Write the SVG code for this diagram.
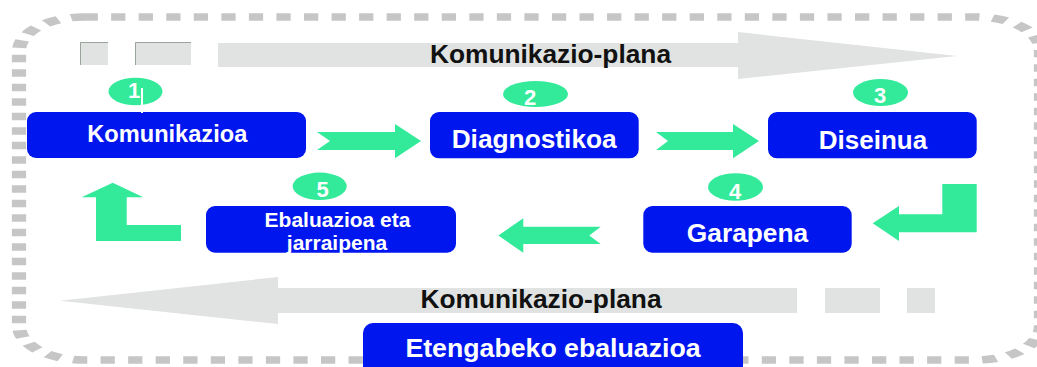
<svg xmlns="http://www.w3.org/2000/svg" width="1037" height="367" viewBox="0 0 1037 367">
<style>
.node{fill:#0016EE;}
.lbl{font-family:"Liberation Sans",Arial,sans-serif;font-weight:bold;fill:#fff;text-anchor:middle;}
.num{font-family:"Liberation Sans",Arial,sans-serif;font-weight:bold;fill:#fff;text-anchor:middle;font-size:22px;}
.badge{fill:#33EA9B;}
.arrow{fill:#33EA9B;}
.band{fill:#E0E3E1;}
.plan{font-family:"Liberation Sans",Arial,sans-serif;font-weight:bold;fill:#111;text-anchor:middle;font-size:26.3px;}
</style>
<defs>
<clipPath id="clip5"><rect x="206" y="206" width="250" height="47" rx="9"/></clipPath>
</defs>
<rect width="1037" height="367" fill="#fff"/>
<g id="frame">
<rect transform="scale(1.9,1)" x="10" y="17" width="537.9" height="343" rx="34" ry="34" fill="none" stroke="#C6C6C6" stroke-width="7.5" stroke-dasharray="7.5 7"/>
</g>
<g id="plan-top">
<rect class="band" x="80" y="42" width="28" height="23"/>
<polyline points="80.5,65 80.5,42.5 108,42.5" fill="none" stroke="#9AA49A" stroke-width="1"/>
<rect class="band" x="135" y="42" width="56" height="23"/>
<polyline points="135.5,65 135.5,42.5 191,42.5" fill="none" stroke="#9AA49A" stroke-width="1"/>
<polygon class="band" points="218,43 738,43 738,32 957,56 738,79 738,67 218,67"/>
<text class="plan" x="550.5" y="63.3">Komunikazio-plana</text>
</g>
<g id="plan-bottom">
<polygon class="band" points="60,300.7 278,277 278,288 797,288 797,313 278,313 278,324"/>
<rect class="band" x="825" y="288" width="55" height="25"/>
<rect class="band" x="907" y="288" width="28" height="25"/>
<text class="plan" x="541" y="308">Komunikazio-plana</text>
</g>
<g id="connectors">
<polygon class="arrow" points="317,132 395,132 395,124 421,141 395,158.3 395,150 317,150 330,141"/>
<polygon class="arrow" points="656,132 733,132 733,124 759,141 733,158.3 733,150 656,150 668,141"/>
<polygon class="arrow" points="942.3,184 976.7,184 976.7,232.3 899,232.3 899,241 872.7,223.3 899,206 899,214.3 942.3,214.3"/>
<polygon class="arrow" points="498.3,235.5 523.3,218.3 523.3,226.7 600.7,226.7 589.3,235.5 600.7,244 523.3,244 523.3,252.7"/>
<polygon class="arrow" points="112.7,182.7 143.3,197.3 126.7,197.3 126.7,225 181,225 181,241 96,241 96,197.3 81.7,197.3"/>
</g>
<g id="node1">
<rect class="node" x="27" y="112" width="279" height="46" rx="9"/>
<ellipse class="badge" cx="135.5" cy="91.5" rx="27" ry="13.8"/>
<text class="num" x="134" y="97.5">1</text>
<line x1="142" y1="88" x2="142" y2="113" stroke="#fff" stroke-width="2"/>
<text class="lbl" x="167.3" y="141.7" font-size="23.6">Komunikazioa</text>
</g>
<g id="node2">
<rect class="node" x="430" y="112" width="208.7" height="46.3" rx="9"/>
<ellipse class="badge" cx="535.5" cy="94" rx="32.5" ry="13"/>
<text class="num" x="530" y="105">2</text>
<text class="lbl" x="534.2" y="147.7" font-size="26.3">Diagnostikoa</text>
</g>
<g id="node3">
<rect class="node" x="768" y="112" width="208.7" height="46.3" rx="9"/>
<ellipse class="badge" cx="880.5" cy="92.5" rx="27.5" ry="13.5"/>
<text class="num" x="880" y="102.7">3</text>
<text class="lbl" x="873" y="149" font-size="26">Diseinua</text>
</g>
<g id="node4">
<rect class="node" x="643.3" y="206" width="208.4" height="46.7" rx="9"/>
<ellipse class="badge" cx="735.5" cy="187" rx="27.5" ry="13.7"/>
<text class="num" x="735" y="199">4</text>
<text class="lbl" x="747.5" y="242.3" font-size="26.3">Garapena</text>
</g>
<g id="node5">
<rect class="node" x="206" y="206" width="250" height="46.7" rx="9"/>
<ellipse class="badge" cx="319.7" cy="186.3" rx="27" ry="13.7"/>
<text class="num" x="322.5" y="196.7">5</text>
<g clip-path="url(#clip5)">
<text class="lbl" x="337.5" y="227.3" font-size="21">Ebaluazioa eta</text>
<text class="lbl" x="337" y="250" font-size="21">jarraipena</text>
</g>
</g>
<g id="node6">
<rect class="node" x="363" y="323" width="380" height="60" rx="10"/>
<text class="lbl" x="553" y="356.7" font-size="26.7">Etengabeko ebaluazioa</text>
</g>
</svg>
